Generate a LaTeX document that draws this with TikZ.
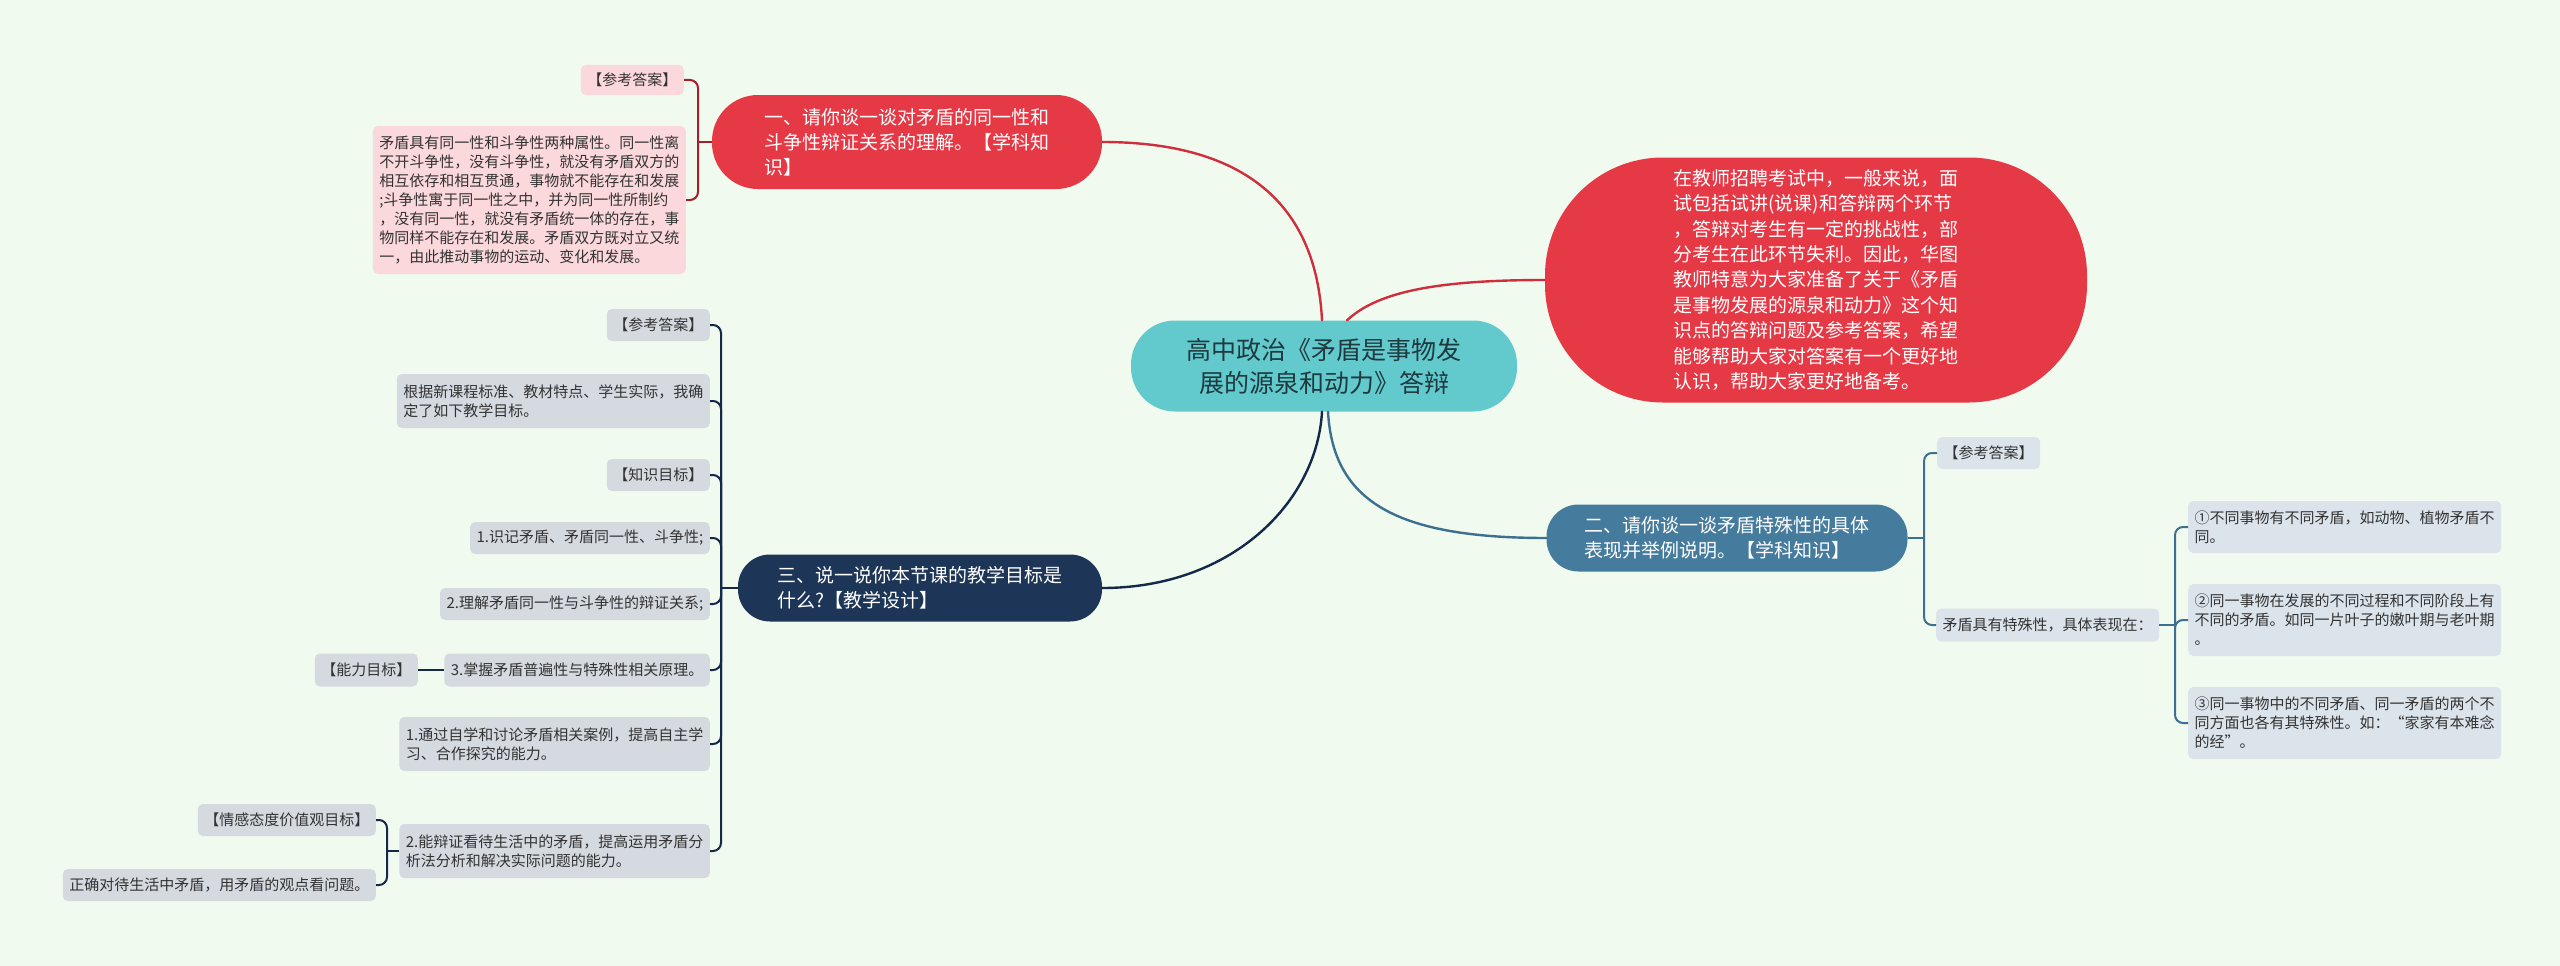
\documentclass[tikz,border=0pt]{standalone}
\usepackage{fontspec}
\setmainfont{Noto Sans CJK SC}
\definecolor{cBg}{HTML}{F1FAEE}
\definecolor{cMain}{HTML}{62C9CD}
\definecolor{cMainTxt}{HTML}{1E3A3F}
\definecolor{cRed}{HTML}{E63946}
\definecolor{cRedLine}{HTML}{CF2F3D}
\definecolor{cRedDark}{HTML}{A61E2C}
\definecolor{cBlue}{HTML}{457B9D}
\definecolor{cBlueLine}{HTML}{3D6F90}
\definecolor{cNavy}{HTML}{1D3557}
\definecolor{cNavyLine}{HTML}{14284A}
\definecolor{cPink}{HTML}{FBD8DC}
\definecolor{cBlueLeaf}{HTML}{DCE4EB}
\definecolor{cGrayLeaf}{HTML}{D5D9E0}
\definecolor{cLeafTxt}{HTML}{333333}
\tikzset{
  bignode/.style={rounded corners=44pt, fill=cMain, text=cMainTxt, minimum width=386pt, minimum height=91pt, inner sep=0pt, align=center, font=\fontsize{25}{33}\selectfont},
  topic/.style={inner sep=0pt, align=left, text=white, font=\fontsize{19}{25}\selectfont},
  leaf/.style={rounded corners=5pt, inner xsep=6.5pt, inner ysep=0pt, align=left, text=cLeafTxt, font=\fontsize{15}{19}\selectfont},
  pinkleaf/.style={leaf, fill=cPink},
  blueleaf/.style={leaf, fill=cBlueLeaf},
  grayleaf/.style={leaf, fill=cGrayLeaf},
  redline/.style={draw=cRedLine, line width=2.4pt, line cap=round},
  blueline/.style={draw=cBlueLine, line width=2.4pt, line cap=round},
  navyline/.style={draw=cNavyLine, line width=2.4pt, line cap=round},
  redbr/.style={draw=cRedDark, line width=2pt, rounded corners=8pt},
  bluebr/.style={draw=cBlueLine, line width=2pt, rounded corners=8pt},
  navybr/.style={draw=cNavyLine, line width=2pt, rounded corners=8pt}
}
\begin{document}
\begin{tikzpicture}[x=1pt,y=-1pt]
\fill[cBg] (0,0) rectangle (2560,966);
\useasboundingbox (0,0) rectangle (2560,966);

% main topics
\node[bignode] (main) at (1324,366) {高中政治《矛盾是事物发\\展的源泉和动力》答辩};
\node[topic, fill=cRed, rounded corners=46pt, minimum width=390pt, minimum height=94pt] (A) at (907,142)
  {一、请你谈一谈对矛盾的同一性和\\斗争性辩证关系的理解。【学科知\\识】};
\node[topic, fill=cRed, rounded corners=118pt, minimum width=542pt, minimum height=245pt, font=\fontsize{19}{25.4}\selectfont] (B) at (1816,280)
  {在教师招聘考试中，一般来说，面\\试包括试讲(说课)和答辩两个环节\\，答辩对考生有一定的挑战性，部\\分考生在此环节失利。因此，华图\\教师特意为大家准备了关于《矛盾\\是事物发展的源泉和动力》这个知\\识点的答辩问题及参考答案，希望\\能够帮助大家对答案有一个更好地\\认识，帮助大家更好地备考。};
\node[topic, fill=cBlue, rounded corners=32pt, minimum width=361pt, minimum height=67pt] (C) at (1727,538)
  {二、请你谈一谈矛盾特殊性的具体\\表现并举例说明。【学科知识】};
\node[topic, fill=cNavy, rounded corners=32pt, minimum width=364pt, minimum height=67pt] (D) at (920,588)
  {三、说一说你本节课的教学目标是\\什么?【教学设计】};

% A leaves
\node[pinkleaf, minimum height=30pt, anchor=east] (Aans) at (684,80) {【参考答案】};
\node[pinkleaf, minimum height=148pt, anchor=east] (Along) at (686,200)
  {矛盾具有同一性和斗争性两种属性。同一性离\\不开斗争性，没有斗争性，就没有矛盾双方的\\相互依存和相互贯通，事物就不能存在和发展\\;斗争性寓于同一性之中，并为同一性所制约\\，没有同一性，就没有矛盾统一体的存在，事\\物同样不能存在和发展。矛盾双方既对立又统\\一，由此推动事物的运动、变化和发展。};

% C leaves
\node[blueleaf, minimum height=32pt, anchor=west] (Cans) at (1937,453) {【参考答案】};
\node[blueleaf, minimum height=33pt, anchor=west] (Csp) at (1936,625) {矛盾具有特殊性，具体表现在：};
\node[blueleaf, minimum height=52pt, anchor=west] (C1) at (2188,527) {①不同事物有不同矛盾，如动物、植物矛盾不\\同。};
\node[blueleaf, minimum height=72pt, anchor=west] (C2) at (2188,620) {②同一事物在发展的不同过程和不同阶段上有\\不同的矛盾。如同一片叶子的嫩叶期与老叶期\\。};
\node[blueleaf, minimum height=72pt, anchor=west] (C3) at (2188,723) {③同一事物中的不同矛盾、同一矛盾的两个不\\同方面也各有其特殊性。如：“家家有本难念\\的经”。};

% D leaves
\node[grayleaf, minimum height=32pt, anchor=east] (D1) at (710,325) {【参考答案】};
\node[grayleaf, minimum height=54pt, anchor=east] (D2) at (710,401) {根据新课程标准、教材特点、学生实际，我确\\定了如下教学目标。};
\node[grayleaf, minimum height=32pt, anchor=east] (D3) at (710,475) {【知识目标】};
\node[grayleaf, minimum height=32pt, anchor=east] (D4) at (710,538) {1.识记矛盾、矛盾同一性、斗争性;};
\node[grayleaf, minimum height=32pt, anchor=east] (D5) at (710,604) {2.理解矛盾同一性与斗争性的辩证关系;};
\node[grayleaf, minimum height=33pt, anchor=east] (D6) at (710,670) {3.掌握矛盾普遍性与特殊性相关原理。};
\node[grayleaf, minimum height=33pt, anchor=east] (D6a) at (418,670) {【能力目标】};
\node[grayleaf, minimum height=54pt, anchor=east] (D7) at (710,744) {1.通过自学和讨论矛盾相关案例，提高自主学\\习、合作探究的能力。};
\node[grayleaf, minimum height=54pt, anchor=east] (D8) at (710,851) {2.能辩证看待生活中的矛盾，提高运用矛盾分\\析法分析和解决实际问题的能力。};
\node[grayleaf, minimum height=32pt, anchor=east] (E1) at (376,820) {【情感态度价值观目标】};
\node[grayleaf, minimum height=32pt, anchor=east] (E2) at (376,885) {正确对待生活中矛盾，用矛盾的观点看问题。};

% main connectors
\draw[redline] ([xshift=-2pt]main.north) .. controls +(-5,-100) and +(160,0) .. (A.east);
\draw[redline] ([xshift=23pt]main.north) .. controls +(30,-28) and +(-110,0) .. (B.west);
\draw[blueline] ([xshift=4pt]main.south) .. controls +(5,90) and +(-150,0) .. (C.west);
\draw[navyline] ([xshift=-2pt]main.south) .. controls +(-5,90) and +(130,0) .. (D.east);

% A bracket
\coordinate (jA) at (698,142);
\draw[redbr] (A.west) -- (jA);
\draw[redbr] (jA) |- (Aans.east);
\draw[redbr] (jA) |- (Along.east);

% C brackets
\coordinate (jC) at (1924,538);
\draw[bluebr] (C.east) -- (jC);
\draw[bluebr] (jC) |- (Cans.west);
\draw[bluebr] (jC) |- (Csp.west);
\coordinate (jS) at (2175,625);
\draw[bluebr] (Csp.east) -- (jS);
\draw[bluebr] (jS) |- (C1.west);
\draw[bluebr] (jS) |- (C2.west);
\draw[bluebr] (jS) |- (C3.west);

% D brackets
\coordinate (jD) at (721,588);
\draw[navybr] (D.west) -- (jD);
\foreach \n in {D1,D2,D3,D4,D5,D6,D7,D8} { \draw[navybr] (jD) |- (\n.east); }
\draw[navybr] (D6.west) -- (D6a.east);
\coordinate (jE) at (387,851);
\draw[navybr] (D8.west) -- (jE);
\draw[navybr] (jE) |- (E1.east);
\draw[navybr] (jE) |- (E2.east);
\end{tikzpicture}
\end{document}
